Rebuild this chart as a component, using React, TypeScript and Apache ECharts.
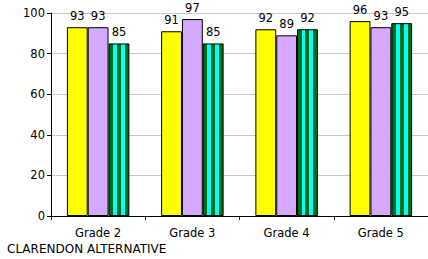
import React, { useEffect, useRef } from "react";
import * as echarts from "echarts";

const categories = ["Grade 2", "Grade 3", "Grade 4", "Grade 5"];
const seriesA = [93, 91, 92, 96];
const seriesB = [93, 97, 89, 93];
const seriesC = [85, 85, 92, 95];
const yTicks = [0, 20, 40, 60, 80, 100];
const title = "CLARENDON ALTERNATIVE";

const FONT = "DejaVu Sans, Verdana, sans-serif";

export default function App() {
  const ref = useRef<HTMLDivElement>(null);
  useEffect(() => {
    if (!ref.current) return;
    const chart = echarts.init(ref.current, null, { renderer: "svg" });
    const G = "#006f1a";
    const C = "#00ffff";
    const stripes = new echarts.graphic.LinearGradient(0, 0, 1, 0, [
      { offset: 0, color: G }, { offset: 0.2, color: G },
      { offset: 0.2, color: C }, { offset: 0.4, color: C },
      { offset: 0.4, color: G }, { offset: 0.6, color: G },
      { offset: 0.6, color: C }, { offset: 0.8, color: C },
      { offset: 0.8, color: G }, { offset: 1, color: G },
    ]);
    const label = {
      show: true,
      position: "top" as const,
      distance: 5,
      color: "#000",
      fontFamily: FONT,
      fontSize: 11.5,
    };
    const itemBase = { borderColor: "#000", borderWidth: 1 };
    chart.setOption({
      animation: false,
      textStyle: { fontFamily: FONT },
      title: {
        text: title,
        left: 7,
        top: 243,
        padding: 0,
        textStyle: { fontFamily: FONT, fontSize: 12, fontWeight: "normal", color: "#000" },
      },
      grid: { left: 51, top: 13, bottom: 43, right: -3, containLabel: false },
      xAxis: {
        type: "category",
        data: categories,
        axisLine: { lineStyle: { color: "#000", width: 1 } },
        axisTick: { show: true, alignWithLabel: false, length: 4, lineStyle: { color: "#000" } },
        axisLabel: { color: "#000", fontFamily: FONT, fontSize: 11.5, margin: 11 },
      },
      yAxis: {
        type: "value",
        min: yTicks[0],
        max: yTicks[yTicks.length - 1],
        interval: 20,
        axisLine: { show: true, lineStyle: { color: "#000", width: 1 } },
        axisTick: { show: true, length: 4, lineStyle: { color: "#000" } },
        axisLabel: { color: "#000", fontFamily: FONT, fontSize: 11.5, margin: 6 },
        splitLine: { show: true, lineStyle: { color: "#c8c8c8", width: 1 } },
      },
      series: [
        {
          type: "bar",
          data: seriesA,
          barGap: "0%",
          barCategoryGap: "33.7%",
          itemStyle: { ...itemBase, color: "#ffff00" },
          label,
        },
        {
          type: "bar",
          data: seriesB,
          barGap: "0%",
          barCategoryGap: "33.7%",
          itemStyle: { ...itemBase, color: "#d5a9ff" },
          label,
        },
        {
          type: "bar",
          data: seriesC,
          barGap: "0%",
          barCategoryGap: "33.7%",
          itemStyle: { ...itemBase, color: stripes },
          label,
        },
      ],
    });
    return () => chart.dispose();
  }, []);
  return <div ref={ref} style={{ width: 428, height: 259, position: "absolute", left: 0, top: 0 }} />;
}
